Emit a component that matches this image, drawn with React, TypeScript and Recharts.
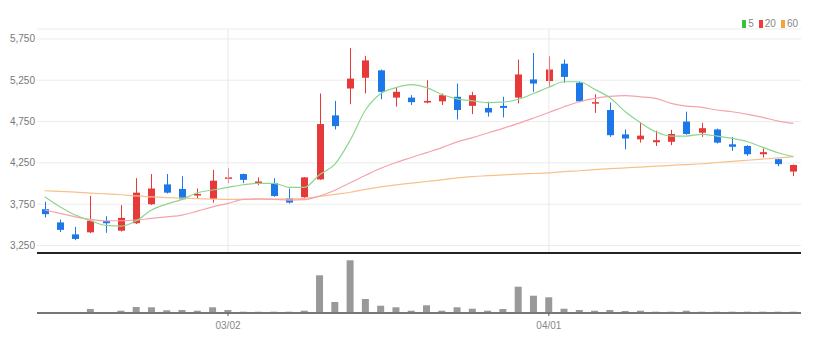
import { ComposedChart, Bar, Line, XAxis, YAxis, CartesianGrid, ReferenceLine } from 'recharts'

const dates = [
  '02/11', '02/14', '02/15', '02/16', '02/17', '02/18', '02/21', '02/22', '02/23', '02/24',
  '02/25', '02/28', '03/02', '03/03', '03/04', '03/07', '03/08', '03/10', '03/11', '03/14',
  '03/15', '03/16', '03/17', '03/18', '03/21', '03/22', '03/23', '03/24', '03/25', '03/28',
  '03/29', '03/30', '03/31', '04/01', '04/04', '04/05', '04/06', '04/07', '04/08', '04/11',
  '04/12', '04/13', '04/14', '04/15', '04/18', '04/19', '04/20', '04/21', '04/22', '04/25',
]

const opens = [
  3690, 3530, 3385, 3410, 3545, 3430, 3520, 3750, 3990, 3935,
  3855, 3815, 4060, 4115, 4005, 4005, 3825, 3835, 4050, 4825,
  5150, 5280, 5370, 5040, 5040, 4980, 4995, 5050, 4940, 4915,
  4940, 5040, 5260, 5240, 5450, 5220, 4970, 4890, 4595, 4535,
  4500, 4505, 4750, 4615, 4655, 4475, 4455, 4355, 4295, 4145,
]
const highs = [
  3780, 3565, 3475, 3850, 3605, 3740, 4065, 4115, 4115, 4090,
  3940, 4165, 4185, 4120, 4075, 4065, 3940, 4080, 5090, 5000,
  5640, 5545, 5380, 5170, 5070, 5250, 5090, 5210, 5110, 4990,
  5050, 5500, 5580, 5540, 5500, 5230, 5080, 4980, 4655, 4735,
  4640, 4650, 4870, 4735, 4665, 4565, 4465, 4425, 4300, 4230,
]
const lows = [
  3590, 3415, 3315, 3400, 3405, 3420, 3510, 3740, 3880, 3800,
  3820, 3770, 4005, 4005, 3980, 3840, 3760, 3825, 4045, 4655,
  4960, 5090, 5020, 4930, 4950, 4970, 4950, 4775, 4840, 4810,
  4800, 4970, 5110, 5170, 5220, 4985, 4855, 4565, 4415, 4495,
  4455, 4465, 4590, 4565, 4485, 4395, 4335, 4315, 4210, 4090,
]
const closes = [
  3630, 3440, 3330, 3550, 3520, 3585, 3890, 3940, 3890, 3810,
  3875, 4035, 4075, 4045, 4025, 3850, 3770, 4075, 4720, 4695,
  5270, 5490, 5110, 5110, 4985, 5000, 5070, 4890, 5070, 4860,
  4915, 5320, 5210, 5380, 5290, 4995, 4985, 4585, 4545, 4580,
  4525, 4600, 4600, 4670, 4495, 4445, 4355, 4380, 4235, 4225,
]

const ma5 = [
  3840, 3719, 3619, 3550, 3494, 3486, 3550, 3680, 3752, 3809,
  3889, 3922, 3954, 3986, 4003, 4003, 3955, 3955, 4110, 4235,
  4527, 4890, 5090, 5160, 5196, 5160, 5077, 5025, 5000, 4980,
  4985, 5020, 5090, 5165, 5232, 5232, 5140, 5037, 4869, 4736,
  4627, 4575, 4575, 4595, 4575, 4547, 4506, 4438, 4373, 4325,
]
const ma20 = [
  3680, 3640, 3598, 3567, 3550, 3550, 3559, 3579, 3598, 3619,
  3667, 3719, 3761, 3809, 3816, 3809, 3800, 3805, 3850, 3920,
  4010, 4100, 4185, 4255, 4315, 4375, 4435, 4505, 4555, 4612,
  4668, 4728, 4793, 4860, 4929, 4990, 5031, 5055, 5063, 5050,
  5031, 4971, 4938, 4922, 4890, 4869, 4838, 4801, 4756, 4728,
]
const ma60 = [
  3913, 3905, 3897, 3885, 3875, 3865, 3850, 3840, 3830, 3823,
  3818, 3812, 3808, 3808, 3810, 3812, 3815, 3822, 3845, 3870,
  3895, 3930, 3960, 3985, 4005, 4025, 4045, 4070, 4085, 4095,
  4105, 4115, 4122, 4130, 4145, 4155, 4168, 4180, 4190, 4200,
  4210, 4220, 4230, 4240, 4255, 4268, 4282, 4296, 4310, 4325,
]

const volumes = [
  10, 10, 10, 40, 10, 23, 60, 57, 27, 30,
  23, 57, 30, 13, 13, 13, 13, 23, 377, 110,
  527, 140, 73, 57, 23, 77, 23, 57, 43, 23,
  40, 263, 173, 157, 43, 30, 23, 30, 20, 23,
  13, 13, 23, 13, 13, 13, 13, 13, 13, 13,
].map((v) => v * 1000)

const priceTicks = [3250, 3750, 4250, 4750, 5250, 5750]
const dateTicks = ['03/02', '04/01']

const data = dates.map((date, i) => ({
  date,
  open: opens[i],
  high: highs[i],
  low: lows[i],
  close: closes[i],
  ma5: ma5[i],
  ma20: ma20[i],
  ma60: ma60[i],
  volume: volumes[i],
}))

const UP = '#e8393a'
const DOWN = '#1c78e8'
const FONT = "'Liberation Sans Narrow', 'Liberation Sans', Arial, sans-serif"

function fmtPrice(v: number) {
  return v.toLocaleString('en-US')
}

// eslint-disable-next-line @typescript-eslint/no-explicit-any
function Candle(props: any) {
  const { x, y, width, height, payload } = props
  const { open, close, high, low } = payload
  const top = Math.min(y, y + height)
  const h = Math.abs(height)
  const span = high - low || 1
  const toY = (v: number) => top + ((high - v) / span) * h
  const cx = Math.round(x + width / 2) + 0.5
  const color = close >= open ? UP : DOWN
  const bTop = toY(Math.max(open, close))
  const bBot = toY(Math.min(open, close))
  return (
    <g>
      <line x1={cx} x2={cx} y1={top} y2={top + h} stroke={color} strokeWidth={1} />
      <rect x={cx - 3.5} y={bTop} width={7} height={Math.max(bBot - bTop, 1.5)} fill={color} />
    </g>
  )
}

const legendItems = [
  { label: '5', color: '#3cbf3c' },
  { label: '20', color: '#f03c3c' },
  { label: '60', color: '#f7a040' },
]

export default function App() {
  return (
    <div style={{ position: 'absolute', left: 0, top: 0, width: 818, height: 352, background: '#fff', fontFamily: FONT }}>
      <div style={{ position: 'absolute', top: 18, right: 20, display: 'flex', alignItems: 'center', fontSize: 10, color: '#888', lineHeight: '12px' }}>
        {legendItems.map((it) => (
          <span key={it.label} style={{ display: 'flex', alignItems: 'center', marginLeft: 5 }}>
            <span style={{ display: 'inline-block', width: 4, height: 8, background: it.color, marginRight: 2 }} />
            {it.label}
          </span>
        ))}
      </div>

      <div style={{ position: 'absolute', left: 0, top: 0 }}>
        <ComposedChart width={818} height={256} data={data} margin={{ top: 29, right: 17, bottom: 3, left: 0 }} barCategoryGap={0}>
          <CartesianGrid vertical={false} stroke="#ececec" />
          <XAxis dataKey="date" hide />
          <YAxis
            domain={[3160, 5870]}
            ticks={priceTicks}
            width={37}
            axisLine={false}
            tickLine={false}
            tickSize={0}
            tickMargin={2}
            tickFormatter={fmtPrice}
            tick={{ fontSize: 10, fill: '#777', fontFamily: FONT }}
          />
          {dateTicks.map((d) => (
            <ReferenceLine key={d} x={d} stroke="#e8e8e8" />
          ))}
          <Bar dataKey={(d: { low: number; high: number }) => [d.low, d.high]} shape={Candle} isAnimationActive={false} />
          <Line type="monotone" dataKey="ma60" stroke="#f8c18c" strokeWidth={1.2} dot={false} isAnimationActive={false} />
          <Line type="monotone" dataKey="ma20" stroke="#f5a3ad" strokeWidth={1.2} dot={false} isAnimationActive={false} />
          <Line type="monotone" dataKey="ma5" stroke="#8ed68e" strokeWidth={1.2} dot={false} isAnimationActive={false} />
          <ReferenceLine y={3160} stroke="#222" strokeWidth={2} />
        </ComposedChart>
      </div>

      <div style={{ position: 'absolute', left: 0, top: 254 }}>
        <ComposedChart width={818} height={94} data={data} margin={{ top: 2, right: 17, bottom: 0, left: 37 }} barCategoryGap={0}>
          <XAxis
            dataKey="date"
            ticks={dateTicks}
            interval={0}
            height={35}
            axisLine={{ stroke: '#777', strokeWidth: 2 }}
            tickLine={{ stroke: '#555' }}
            tickSize={3}
            tickMargin={6}
            tick={{ fontSize: 10, fill: '#888', fontFamily: FONT }}
          />
          <YAxis hide domain={[0, 570000]} />
          <Bar dataKey="volume" fill="#999" barSize={7} isAnimationActive={false} />
        </ComposedChart>
      </div>
    </div>
  )
}
